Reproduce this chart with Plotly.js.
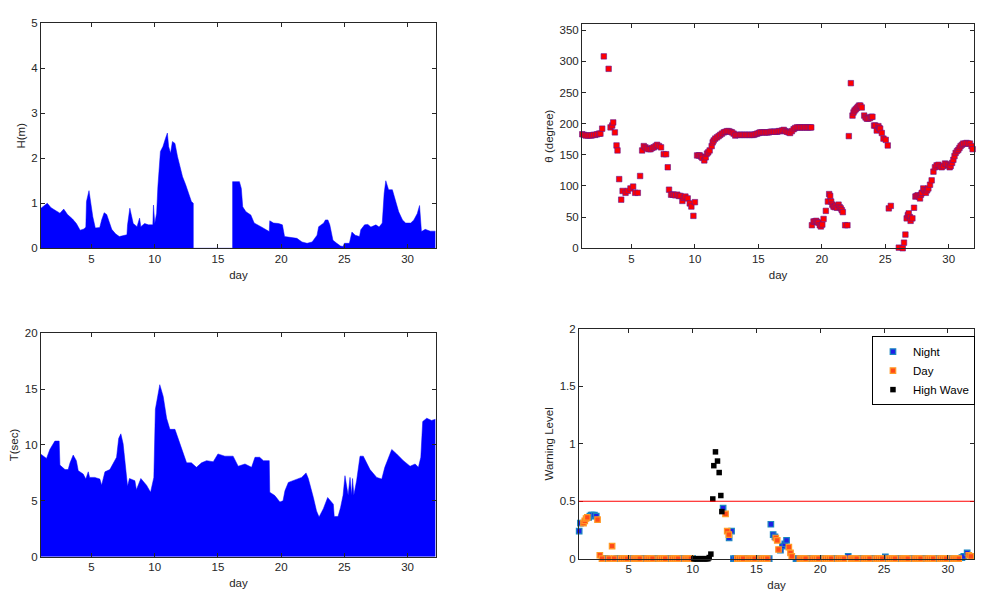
<!DOCTYPE html>
<html>
<head>
<meta charset="utf-8">
<script src="https://cdn.plot.ly/plotly-3.0.1.min.js"></script>
<style>html,body{margin:0;padding:0;background:#fff;}#chart{width:992px;height:610px;}</style>
</head>
<body>
<div id="chart"></div>
<script>
// ---- Wave height H(m) ----
const H_day = [1.0,1.3,1.5,1.8,2.2, 2.5,2.8,3.1,3.5,3.8, 4.1,4.4,4.55,4.6,4.8, 4.95,5.1,5.3,5.65,5.8,
  6.0,6.2,6.4,6.6,6.9, 7.2,7.8,7.85,8.03,8.15, 8.3,8.6,8.8,8.9,9.2, 9.5,9.85,9.9,10.0,10.15,
  10.25,10.45,10.65,10.85,11.0, 11.1,11.25,11.4,11.6,11.8, 12.05,12.2,12.45,12.7,12.9, 13.05,13.05,16.16,16.16,16.7,
  16.85,16.96,17.22,17.6,17.87, 18.4,19.06,19.1,19.4,19.8, 20.1,20.27,20.98,21.25,21.65, 22.05,22.45,22.84,22.97,23.37,
  23.5,23.7,23.85,24.1,24.4, 24.7,24.9,25.0,25.4,25.6, 25.86,26.2,26.3,26.6,26.86, 27.1,27.5,27.75,28.0,28.15,
  28.28,28.5,28.8,29.05,29.3, 29.6,29.85,30.25,30.5,30.77, 30.95,31.1,31.4,31.8,32.2];
const H_val = [0.89,0.95,1.0,0.9,0.84, 0.78,0.87,0.75,0.65,0.55, 0.4,0.43,0.47,1.04,1.28, 0.95,0.7,0.45,0.46,0.63,
  0.79,0.75,0.6,0.42,0.32, 0.26,0.3,0.52,0.89,0.7, 0.55,0.48,0.67,0.48,0.55, 0.52,0.52,0.96,0.55,0.78,
  1.37,2.15,2.26,2.44,2.56, 2.26,2.11,2.37,2.33,2.04, 1.74,1.59,1.41,1.22,1.04, 1.0,0,0,1.48,1.48,
  1.33,0.92,0.81,0.74,0.56, 0.48,0.37,0.61,0.56,0.55, 0.52,0.26,0.24,0.22,0.14, 0.11,0.14,0.29,0.48,0.56,
  0.63,0.63,0.52,0.18,0.11, 0.05,0.04,0.11,0.11,0.36, 0.29,0.26,0.41,0.52,0.53, 0.47,0.52,0.47,0.56,1.22,
  1.5,1.3,1.3,1.08,0.81, 0.63,0.56,0.56,0.63,0.77, 0.95,0.37,0.42,0.38,0.38];

// ---- Wave period T(sec) ----
const T_day = [1.0,1.3,1.44,1.7,1.97, 2.1,2.44,2.5,2.9,3.15, 3.3,3.55,3.8,3.95,4.34, 4.55,4.74,4.85,5.26,5.66,
  5.8,6.06,6.45,6.7,6.98, 7.15,7.32,7.5,7.64,7.85, 8.0,8.43,8.55,8.9,9.35, 9.67,9.93,10.05,10.4,10.67,
  10.94,11.2,11.6,11.86,12.12, 12.52,12.9,13.3,13.7,14.1, 14.63,15.0,15.55,16.2,16.6, 17.14,17.66,17.93,18.3,18.6,
  19.06,19.1,19.5,19.9,20.15, 20.3,20.57,20.96,21.36,21.62, 21.97,22.15,22.55,22.8,23.0, 23.34,23.68,24.13,24.2,24.5,
  24.7,24.9,25.05,25.2,25.3, 25.45,25.58,25.65,25.75,25.97, 26.24,26.5,27.03,27.56,27.96, 28.2,28.75,29.14,29.67,30.2,
  30.6,30.86,31.05,31.2,31.52, 31.9,32.2];
const T_val = [9.17,8.9,8.8,9.6,10.1, 10.35,10.35,8.2,7.8,7.8, 8.4,9.1,8.6,7.7,7.4, 6.95,7.6,7.1,7.1,6.95,
  6.4,7.6,7.8,8.3,8.9, 10.6,11.0,10.1,8.3,6.3, 7.0,6.8,6.0,7.0,6.4, 5.77,7.1,13.2,15.4,14.35,
  12.4,11.4,11.4,10.5,9.6, 8.4,8.4,8.0,8.4,8.6, 8.5,9.2,9.0,9.0,8.1, 8.3,8.0,8.9,8.9,8.6,
  8.6,5.77,5.47,4.9,5.0, 5.9,6.65,6.8,6.95,7.1, 7.5,7.0,5.3,4.1,3.55, 4.3,5.3,4.7,3.6,3.6,
  4.4,5.5,7.25,6.0,5.5, 7.1,5.5,7.0,5.5,6.8, 9.0,9.0,7.8,7.1,6.95, 8.0,9.6,9.2,8.6,8.1,
  8.3,8.0,8.9,12.1,12.4, 12.2,12.3];

// ---- Wave direction theta (degree) ----
const th_day = [1.12,1.25,1.4,1.55,1.7,1.85,2.0,2.15,2.3,2.45,
  2.55,2.69,2.82,3.2,3.35,3.48,3.56,3.69,3.82,3.9,
  4.03,4.19,4.3,4.53,4.71,4.92,5.13,5.29,5.5,5.68,
  5.84,5.97,6.1,6.23,6.37,6.5,6.63,6.76,6.9,7.02,
  7.17,7.33,7.54,7.73,7.86,7.96,8.12,8.25,8.33,8.45,
  8.6,8.73,8.86,9.01,9.13,9.25,9.43,9.59,9.72,9.88,
  10.0,10.17,10.3,10.38,10.5,10.59,10.74,10.85,10.95,11.05,
  11.16,11.32,11.4,11.48,11.6,11.74,11.87,12.0,12.13,12.27,
  12.4,12.53,12.66,12.8,12.92,13.05,13.18,13.3,13.45,13.58,
  13.7,13.85,13.97,14.1,14.25,14.37,14.5,14.63,14.77,14.9,
  15.03,15.15,15.28,15.42,15.55,15.68,15.82,15.95,16.07,16.2,
  16.33,16.47,16.6,16.73,16.87,17.0,17.13,17.25,17.38,17.5,
  17.64,17.78,17.9,18.04,18.17,18.3,18.43,18.56,18.69,18.82,
  18.95,19.08,19.17,19.22,19.35,19.45,19.56,19.65,19.74,19.84,
  19.93,20.04,20.14,20.32,20.48,20.58,20.66,20.74,20.83,20.92,
  21.01,21.1,21.2,21.32,21.41,21.5,21.58,21.66,21.84,22.02,
  22.13,22.29,22.42,22.5,22.58,22.67,22.76,22.85,22.94,23.04,
  23.15,23.34,23.45,23.55,23.67,23.8,23.9,23.99,24.12,24.22,
  24.33,24.46,24.53,24.6,24.73,24.86,25.04,25.2,25.28,25.44,
  26.07,26.38,26.48,26.59,26.69,26.78,26.85,26.95,27.0,27.14,
  27.27,27.38,27.47,27.56,27.65,27.74,27.82,27.88,28.0,28.1,
  28.2,28.3,28.4,28.53,28.66,28.8,28.92,29.05,29.19,29.32,
  29.45,29.58,29.71,29.84,29.97,30.08,30.16,30.27,30.37,30.46,
  30.55,30.66,30.76,30.85,30.94,31.05,31.15,31.28,31.41,31.55,
  31.68,31.8,31.89];
const th_val = [183,182,181,181,181,181,182,182,183,184,
  184,192,308,288,194,197,202,186,165,157,
  111,78,92,89,92,96,99,89,89,116,
  157,164,162,160,159,159,161,162,164,166,
  164,162,151,151,130,94,86,86,86,85,
  86,84,84,76,81,83,80,72,67,52,
  74,149,149,149,147,145,141,146,152,154,
  157,164,170,173,176,178,180,182,184,186,
  187,188,188,187,186,184,181,182,182,182,
  182,182,182,182,182,182,182,182,183,184,
  185,186,186,186,186,186,186,187,187,187,
  187,187,188,188,189,190,188,187,186,185,
  188,191,193,194,194,194,194,194,194,194,
  194,194,194,37,43,43,44,42,41,37,
  35,38,47,60,75,87,84,75,70,67,
  66,68,65,70,66,64,61,58,37,37,
  180,265,213,218,221,223,225,227,229,229,
  226,213,210,208,208,209,211,211,197,197,
  189,196,193,192,185,176,174,165,64,68,
  1,0,9,22,48,53,56,50,44,48,
  65,83,84,85,83,80,86,89,96,93,
  89,93,96,102,109,123,130,133,134,131,
  130,132,136,135,133,130,132,137,142,148,
  153,156,158,161,164,166,168,168,169,168,
  168,164,159];

// ---- Warning level ----
const nightDay = [1.11,1.21,1.85,1.95,2.05,2.15,2.3,2.45,3.1,3.25,
  4.05,4.2,5.0,5.15,6.1,6.25,7.1,7.25,8.1,8.25,
  9.1,9.25,10.0,12.39,12.86,13.05,13.2,13.35,14.1,14.25,
  15.1,15.25,16.0,16.13,16.31,16.45,16.88,17.04,17.22,17.36,
  18.1,18.25,19.1,19.25,20.1,20.25,21.1,21.25,22.19,23.1,
  23.25,24.1,24.25,25.1,25.25,26.1,26.25,27.1,27.25,28.1,
  28.25,29.1,29.25,30.1,30.25,31.1,31.25,31.51];
const nightVal = [0.24,0.31,0.36,0.37,0.38,0.38,0.38,0.37,0,0,
  0,0,0,0,0,0,0,0,0,0,
  0,0,0,0.44,0.18,0.24,0,0,0,0,
  0,0,0,0.30,0.21,0.19,0.075,0.11,0.13,0.16,
  0,0,0,0,0,0,0,0,0.02,0,
  0,0,0,0.015,0,0,0,0,0,0,
  0,0,0,0,0,0.01,0.02,0.05];
const dayDay = [1.45,1.55,1.65,1.75,2.55,2.73,2.9,3.45,3.69,3.85,
  4.4,4.55,4.7,4.85,5.4,5.55,5.7,5.85,6.4,6.55,
  6.7,6.85,7.4,7.55,7.7,7.85,8.4,8.55,8.7,8.85,
  9.4,9.55,9.7,9.85,12.58,12.71,12.84,13.5,13.65,13.8,
  13.95,14.4,14.55,14.7,14.85,15.4,15.55,15.7,15.85,16.52,
  16.63,16.73,17.54,17.67,17.77,18.4,18.55,18.7,18.85,19.4,
  19.55,19.7,19.85,20.4,20.55,20.7,20.85,21.4,21.55,21.7,
  21.85,22.4,22.55,22.7,22.85,23.4,23.55,23.7,23.85,24.4,
  24.55,24.7,24.85,25.4,25.55,25.7,25.85,26.4,26.55,26.7,
  26.85,27.4,27.55,27.7,27.85,28.4,28.55,28.7,28.85,29.4,
  29.55,29.7,29.85,30.4,30.55,30.7,30.85,31.64,31.8];
const dayVal = [0.31,0.33,0.35,0.36,0.34,0.03,0,0,0.11,0,
  0,0,0,0,0,0,0,0,0,0,
  0,0,0,0,0,0,0,0,0,0,
  0,0,0,0,0.39,0.24,0.21,0,0,0,
  0,0,0,0,0,0,0,0,0,0.18,
  0.16,0.08,0.10,0.05,0.02,0,0,0,0,0,
  0,0,0,0,0,0,0,0,0,0,
  0,0,0,0,0,0,0,0,0,0,
  0,0,0,0,0,0,0,0,0,0,
  0,0,0,0,0,0,0,0,0,0,
  0,0,0,0,0,0,0,0.03,0.02];
const hwDay = [10.1,10.2,10.3,10.4,10.5,10.6,10.7,10.8,10.9,11.0,11.1,11.2,11.3,11.43,11.58,11.66,11.79,11.95,12.08,12.21,12.29];
const hwVal = [0,0,0,0,0,0,0,0,0,0,0,0,0.01,0.04,0.52,0.81,0.93,0.85,0.75,0.55,0.41];
const threshold = 0.5;
const seriesNames = ['Night','Day','High Wave'];

const FONT = 'Liberation Sans, Arial, Helvetica, sans-serif';
const tickFont = {family: FONT, size: 11.5, color: '#262626'};

function xAxis(domain, range, anchor) {
  return {domain: domain, range: range, anchor: anchor, tick0: 0, dtick: 5,
    ticks: 'inside', ticklen: 4, tickcolor: '#262626', showline: true, linecolor: '#262626', linewidth: 1,
    mirror: 'ticks', showgrid: false, zeroline: false, tickfont: tickFont,
    title: {text: 'day', font: {family: FONT, size: 11.5, color: '#262626'}, standoff: 6}};
}
function yAxis(domain, range, dtick, anchor, title) {
  return {domain: domain, range: range, anchor: anchor, dtick: dtick, tick0: 0,
    ticks: 'inside', ticklen: 4, tickcolor: '#262626', showline: true, linecolor: '#262626', linewidth: 1,
    mirror: 'ticks', showgrid: false, zeroline: false, tickfont: tickFont,
    title: {text: title, font: {family: FONT, size: 11.5, color: '#262626'}, standoff: 3}};
}

const traces = [
  {type: 'scatter', mode: 'lines', x: H_day, y: H_val, xaxis: 'x', yaxis: 'y', fill: 'tozeroy',
   fillcolor: '#0000ff', line: {color: '#0000ff', width: 0.5}, showlegend: false},
  {type: 'scatter', mode: 'markers', x: th_day, y: th_val, xaxis: 'x2', yaxis: 'y2', cliponaxis: false,
   marker: {symbol: 'square', size: 5.5, color: '#ff0000', line: {color: 'rgba(100,20,150,0.75)', width: 0.8}}, showlegend: false},
  {type: 'scatter', mode: 'lines', x: T_day, y: T_val, xaxis: 'x3', yaxis: 'y3', fill: 'tozeroy',
   fillcolor: '#0000ff', line: {color: '#0000ff', width: 0.5}, showlegend: false},
  {type: 'scatter', mode: 'markers', name: seriesNames[0], x: nightDay, y: nightVal, xaxis: 'x4', yaxis: 'y4', cliponaxis: false,
   marker: {symbol: 'square', size: 5.5, color: '#1f1fe6', line: {color: '#1a86c0', width: 1.2}}},
  {type: 'scatter', mode: 'markers', name: seriesNames[1], x: dayDay, y: dayVal, xaxis: 'x4', yaxis: 'y4', cliponaxis: false,
   marker: {symbol: 'square', size: 5.5, color: '#ff4a1a', line: {color: '#ff9a26', width: 1.2}}},
  {type: 'scatter', mode: 'markers', name: seriesNames[2], x: hwDay, y: hwVal, xaxis: 'x4', yaxis: 'y4', cliponaxis: false,
   marker: {symbol: 'square', size: 5.5, color: '#000000', line: {color: '#000000', width: 0}}}
];

const layout = {
  width: 992, height: 610, margin: {l: 0, r: 0, t: 0, b: 0},
  paper_bgcolor: '#ffffff', plot_bgcolor: '#ffffff',
  font: {family: FONT, size: 11.5, color: '#262626'},
  xaxis: xAxis([0.0413, 0.4395], [1, 32.25], 'y'),
  yaxis: yAxis([0.593, 0.962], [0, 5], 1, 'x', 'H(m)'),
  xaxis2: xAxis([0.5867, 0.9819], [1.1, 32], 'y2'),
  yaxis2: yAxis([0.593, 0.9607], [0, 360], 50, 'x2', 'θ (degree)'),
  xaxis3: xAxis([0.0413, 0.4395], [1, 32.25], 'y3'),
  yaxis3: yAxis([0.0874, 0.4536], [0, 20], 5, 'x3', 'T(sec)'),
  xaxis4: xAxis([0.5837, 0.9819], [1.1, 32.05], 'y4'),
  yaxis4: yAxis([0.0841, 0.4607], [0, 2], 0.5, 'x4', 'Warning Level'),
  shapes: [{type: 'line', xref: 'x4 domain', x0: 0, x1: 1, yref: 'y4', y0: threshold, y1: threshold,
    line: {color: '#ff0000', width: 1}}],
  legend: {x: 0.879, y: 0.449, xanchor: 'left', yanchor: 'top', bgcolor: '#ffffff',
    bordercolor: '#000000', borderwidth: 1, font: {family: FONT, size: 11.5, color: '#000000'},
    tracegroupgap: 0, itemwidth: 30},
  showlegend: true
};

Plotly.newPlot('chart', traces, layout, {displayModeBar: false, staticPlot: true});
</script>
</body>
</html>
